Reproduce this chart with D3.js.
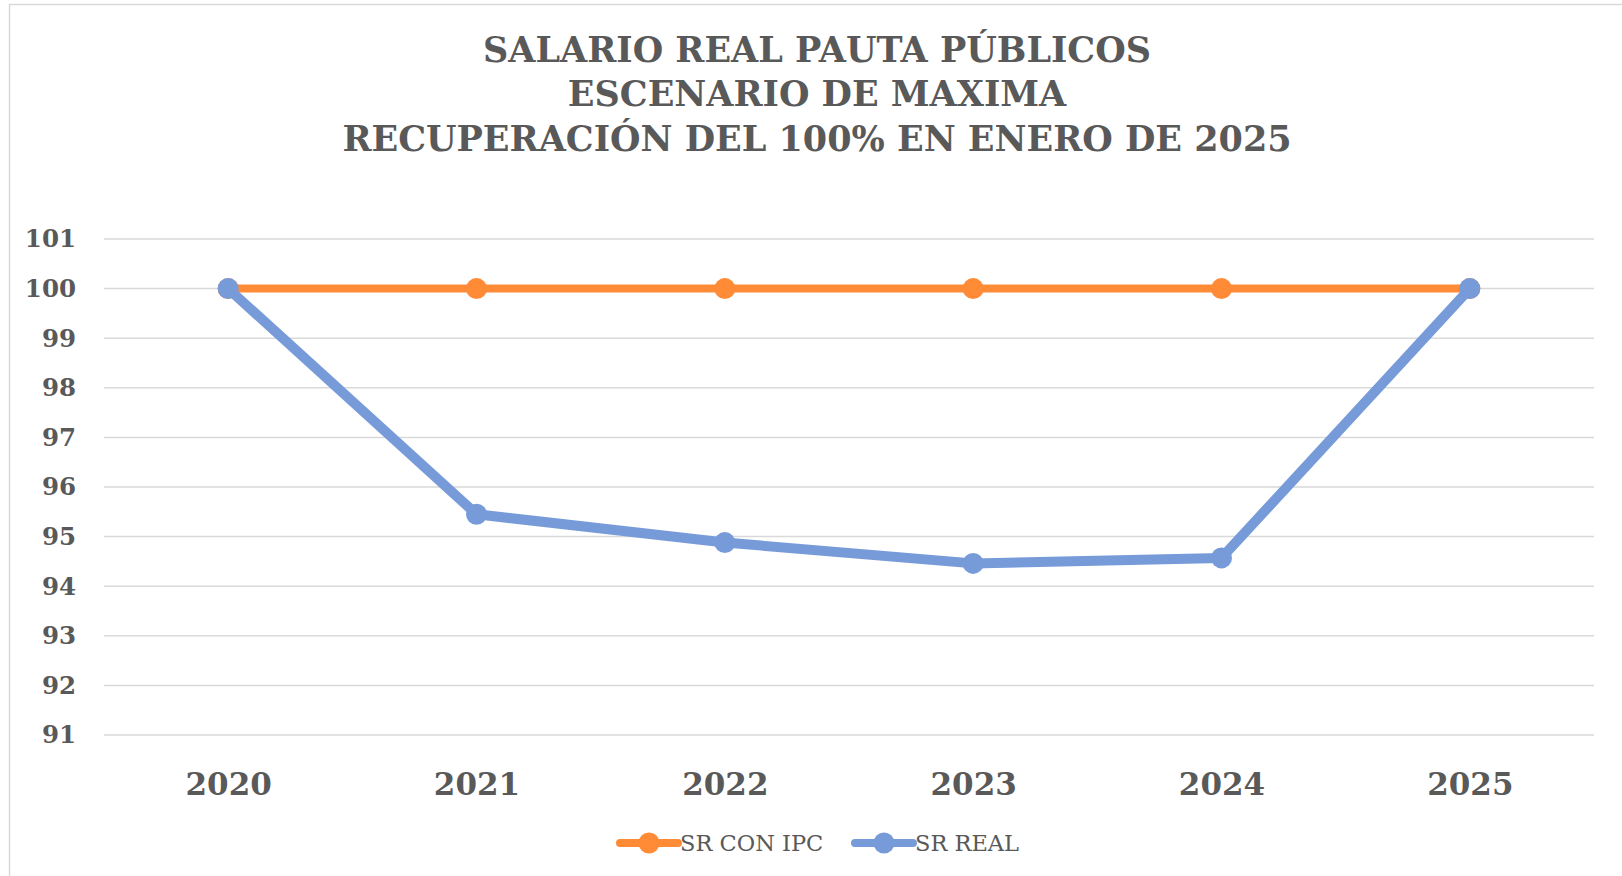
<!DOCTYPE html>
<html>
<head>
<meta charset="utf-8">
<script src="https://cdn.jsdelivr.net/npm/d3@7"></script>
<style>
  body { margin: 0; background: #fff; }
  svg { display: block; font-family: "DejaVu Serif", serif; }
</style>
</head>
<body>
<svg id="chart"></svg>
<script>
// chart data
const years = ["2020", "2021", "2022", "2023", "2024", "2025"];
const srConIpc = [100, 100, 100, 100, 100, 100];
const srReal = [100, 95.45, 94.88, 94.46, 94.57, 100];
const yTicks = [91, 92, 93, 94, 95, 96, 97, 98, 99, 100, 101];
const titleLines = [
  "SALARIO REAL PAUTA PÚBLICOS",
  "ESCENARIO DE MAXIMA",
  "RECUPERACIÓN DEL 100% EN ENERO DE 2025"
];
const seriesNames = ["SR CON IPC", "SR REAL"];

const svgWidth = 1622;
const svgHeight = 876;
const margin = { top: 239, right: 28, bottom: 141, left: 104 };
const width = svgWidth - margin.left - margin.right;
const height = svgHeight - margin.top - margin.bottom;
const textColor = "#595959";
const colors = ["#FF8B36", "#779BD9"];

const svg = d3.select("#chart").attr("width", svgWidth).attr("height", svgHeight);

// chart border (only left and top show in the frame)
svg.append("rect")
  .attr("x", 9.5).attr("y", 4.5)
  .attr("width", 1700).attr("height", 1000)
  .attr("fill", "none")
  .attr("stroke", "#D9D9D9")
  .attr("stroke-width", 1.5);

// Title
svg.append("g")
  .selectAll("text")
  .data(titleLines)
  .join("text")
  .attr("x", 817)
  .attr("y", (d, i) => 49 + i * 44.5)
  .attr("text-anchor", "middle")
  .attr("dominant-baseline", "central")
  .attr("font-size", 35)
  .attr("font-weight", "bold")
  .attr("fill", textColor)
  .text((d) => d);

const g = svg.append("g").attr("transform", `translate(${margin.left},${margin.top})`);

const xScale = d3.scalePoint().domain(years).range([0, width]).padding(0.5);
const yScale = d3.scaleLinear().domain([91, 101]).range([height, 0]);

// gridlines
g.append("g")
  .selectAll("line")
  .data(yTicks)
  .join("line")
  .attr("x1", 0)
  .attr("x2", width)
  .attr("y1", (d) => yScale(d))
  .attr("y2", (d) => yScale(d))
  .attr("stroke", "#D9D9D9")
  .attr("stroke-width", 1.5);

// y-axis
const yAxis = g.append("g")
  .call(d3.axisLeft(yScale).tickValues(yTicks).tickSize(0).tickPadding(28));
yAxis.select(".domain").remove();
yAxis.selectAll("text")
  .attr("font-family", "DejaVu Serif, serif")
  .attr("font-size", 24.5)
  .attr("font-weight", "bold")
  .attr("fill", textColor);

// x-axis
const xAxis = g.append("g")
  .attr("transform", `translate(0,${height})`)
  .call(d3.axisBottom(xScale).tickSize(0).tickPadding(50));
xAxis.select(".domain").remove();
xAxis.selectAll("text")
  .attr("dy", "0.32em")
  .attr("font-family", "DejaVu Serif, serif")
  .attr("font-size", 31)
  .attr("font-weight", "bold")
  .attr("fill", textColor);

// lines
const line = d3.line()
  .x((d, i) => xScale(years[i]))
  .y((d) => yScale(d));

const series = [srConIpc, srReal];
const lineWidths = [8, 10];

series.forEach((s, k) => {
  g.append("path")
    .datum(s)
    .attr("d", line)
    .attr("fill", "none")
    .attr("stroke", colors[k])
    .attr("stroke-width", lineWidths[k])
    .attr("stroke-linejoin", "round");
  g.append("g")
    .selectAll("circle")
    .data(s)
    .join("circle")
    .attr("cx", (d, i) => xScale(years[i]))
    .attr("cy", (d) => yScale(d))
    .attr("r", 10.5)
    .attr("fill", colors[k]);
});

// legend
const legendX = [620, 855];
const legend = svg.append("g");
seriesNames.forEach((name, k) => {
  const lg = legend.append("g").attr("transform", `translate(${legendX[k]},843)`);
  lg.append("line")
    .attr("x1", 0).attr("x2", 58)
    .attr("stroke", colors[k])
    .attr("stroke-width", 8)
    .attr("stroke-linecap", "round");
  lg.append("circle").attr("cx", 29).attr("r", 10.5).attr("fill", colors[k]);
  lg.append("text")
    .attr("x", 60)
    .attr("dominant-baseline", "central")
    .attr("font-size", 22.5)
    .attr("fill", textColor)
    .text(name);
});
</script>
</body>
</html>
